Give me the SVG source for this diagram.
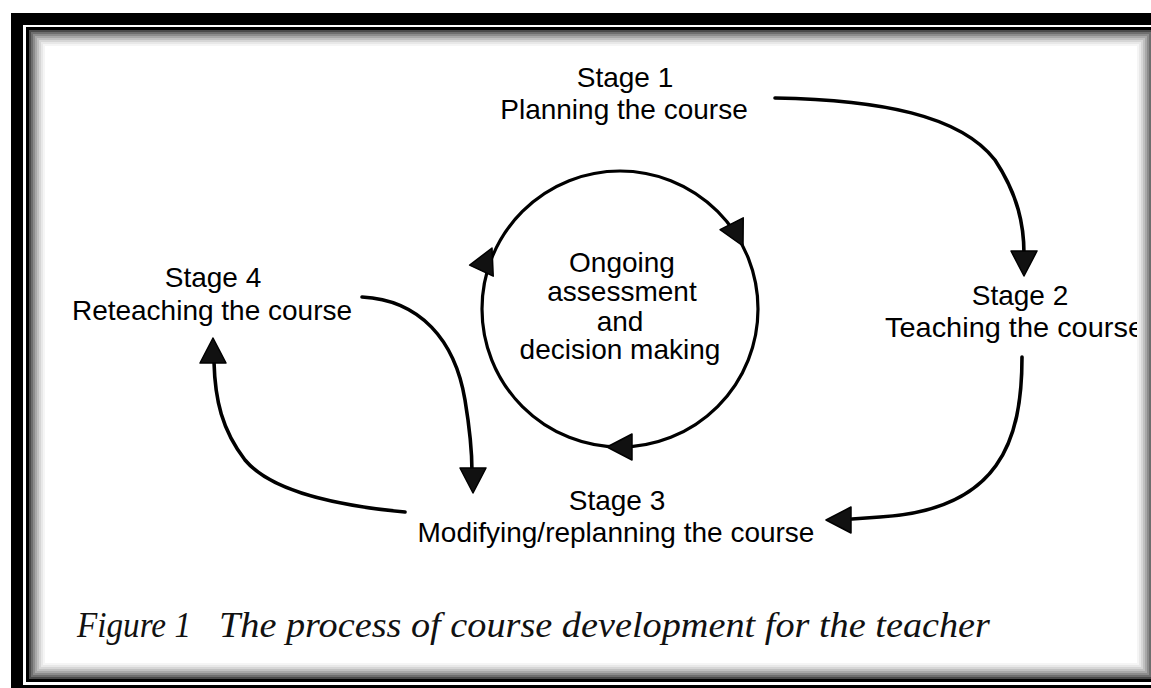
<svg xmlns="http://www.w3.org/2000/svg" xmlns:xlink="http://www.w3.org/1999/xlink" width="1151" height="688" viewBox="0 0 1151 688">
<style>
.lbl{font-family:"Liberation Sans",Arial,sans-serif;font-size:28px;fill:#000;text-anchor:middle}
.cap{font-family:"Liberation Serif","Times New Roman",serif;font-style:italic;font-size:35px;fill:#111}
.con{fill:none;stroke:#000;stroke-width:3.6;stroke-linecap:round}
.ring{fill:none}
</style>
<defs>
<path id="ah" d="M0,0 L-25,-13 L-25,13 Z" fill="#111" stroke="#000" stroke-width="1.5" stroke-linejoin="round"/>
</defs>
<rect x="0" y="0" width="1151" height="688" fill="#fff"/>

<g id="center">
<circle cx="620" cy="309" r="138" fill="none" stroke="#000" stroke-width="3.2"/>
<text class="lbl" x="622" y="272">Ongoing</text>
<text class="lbl" x="622" y="301">assessment</text>
<text class="lbl" x="620" y="331">and</text>
<text class="lbl" x="620" y="359">decision making</text>
</g>

<g id="stage1">
<text class="lbl" x="625" y="87">Stage 1</text>
<text class="lbl" x="624" y="119">Planning the course</text>
</g>
<g id="stage2">
<text class="lbl" x="1020" y="305">Stage 2</text>
<text class="lbl" x="885" y="337" style="text-anchor:start" textLength="259" lengthAdjust="spacingAndGlyphs">Teaching the course</text>
</g>
<g id="stage3">
<text class="lbl" x="617" y="510">Stage 3</text>
<text class="lbl" x="616" y="542">Modifying/replanning the course</text>
</g>
<g id="stage4">
<text class="lbl" x="213" y="287">Stage 4</text>
<text class="lbl" x="212" y="320">Reteaching the course</text>
</g>

<g id="connectors">
<path class="con" d="M775,98 C880,100 960,115 995,160 C1018,195 1024,225 1024,254"/>
<path class="con" d="M1022,357 C1022,440 1000,510 880,517 L852,519"/>
<path class="con" d="M362,297 C420,300 455,340 465,400 C470,430 472,450 472,472"/>
<path class="con" d="M405,512 C330,505 270,490 245,460 C222,430 215,400 214,362"/>
<use xlink:href="#ah" href="#ah" transform="translate(1024,276) rotate(90)"/>
<use xlink:href="#ah" href="#ah" transform="translate(826,520) rotate(180)"/>
<use xlink:href="#ah" href="#ah" transform="translate(743,246) rotate(63)"/>
<use xlink:href="#ah" href="#ah" transform="translate(492,248) rotate(-65)"/>
<use xlink:href="#ah" href="#ah" transform="translate(607,447) rotate(180)"/>
<use xlink:href="#ah" href="#ah" transform="translate(473,493) rotate(90)"/>
<use xlink:href="#ah" href="#ah" transform="translate(213,338) rotate(-90)"/>
</g>

<g id="caption">
<text class="cap" x="77" y="637" textLength="114" lengthAdjust="spacingAndGlyphs">Figure 1</text>
<text class="cap" x="219" y="637" textLength="771" lengthAdjust="spacingAndGlyphs">The process of course development for the teacher</text>
</g>

<g id="frame">
<path d="M11,13 H1160 V700 H11 Z M23,25 V685 H1160 V25 Z" fill="#000" fill-rule="evenodd"/>
<rect x="27.5" y="28.5" width="1127" height="652" fill="none" stroke="#000" stroke-width="3"/>
<rect class="ring" x="30" y="31" width="1122" height="647" stroke="#4a4a4a" stroke-width="2"/>
<rect class="ring" x="32" y="33" width="1118" height="643" stroke="#6e6e6e" stroke-width="2"/>
<rect class="ring" x="34" y="35" width="1114" height="639" stroke="#8c8c8c" stroke-width="2"/>
<rect class="ring" x="36" y="37" width="1110" height="635" stroke="#a8a8a8" stroke-width="2"/>
<rect class="ring" x="38" y="39" width="1106" height="631" stroke="#c0c0c0" stroke-width="2"/>
<rect class="ring" x="40" y="41" width="1102" height="627" stroke="#d6d6d6" stroke-width="2"/>
<rect class="ring" x="42" y="43" width="1098" height="623" stroke="#e8e8e8" stroke-width="2"/>
<rect class="ring" x="44" y="45" width="1094" height="619" stroke="#f5f5f5" stroke-width="2"/>
</g>
</svg>
